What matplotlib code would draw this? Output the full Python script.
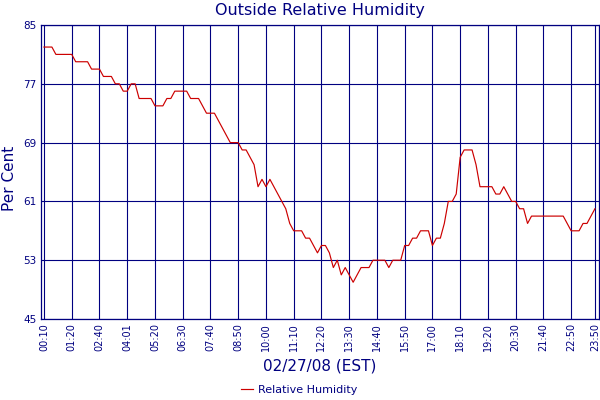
import numpy as np
import matplotlib
matplotlib.use("Agg")
import matplotlib.pyplot as plt

# relative humidity readings, one per sample
humidity = [82, 82, 82, 81, 81, 81, 81, 81, 80, 80,
            80, 80, 79, 79, 79, 78, 78, 78, 77, 77,
            76, 76, 77, 77, 75, 75, 75, 75, 74, 74,
            74, 75, 75, 76, 76, 76, 76, 75, 75, 75,
            74, 73, 73, 73, 72, 71, 70, 69, 69, 69,
            68, 68, 67, 66, 63, 64, 63, 64, 63, 62,
            61, 60, 58, 57, 57, 57, 56, 56, 55, 54,
            55, 55, 54, 52, 53, 51, 52, 51, 50, 51,
            52, 52, 52, 53, 53, 53, 53, 52, 53, 53,
            53, 55, 55, 56, 56, 57, 57, 57, 55, 56,
            56, 58, 61, 61, 62, 67, 68, 68, 68, 66,
            63, 63, 63, 63, 62, 62, 63, 62, 61, 61,
            60, 60, 58, 59, 59, 59, 59, 59, 59, 59,
            59, 59, 58, 57, 57, 57, 58, 58, 59, 60]

tick_pos = [0, 7, 14, 21, 28, 35, 42, 49, 56, 63, 70, 77, 84, 91, 98,
            105, 112, 119, 126, 133, 139]
tick_labels = ["00:10", "01:20", "02:40", "04:01", "05:20", "06:30", "07:40",
               "08:50", "10:00", "11:10", "12:20", "13:30", "14:40", "15:50",
               "17:00", "18:10", "19:20", "20:30", "21:40", "22:50", "23:50"]
y_ticks = [45, 53, 61, 69, 77, 85]

navy = "#000080"
red = "#cc0000"

fig = plt.figure(figsize=(6, 4), dpi=100)
ax = fig.add_axes([40.7 / 600, 1 - 319 / 400, (598.5 - 40.7) / 600, (319 - 25) / 400])

x = np.arange(len(humidity))
line, = ax.plot(x, humidity, color=red, lw=0.85, zorder=3)

ax.set_xlim(-0.83, 139.9)
ax.set_ylim(45, 85)
ax.set_xticks(tick_pos)
ax.set_xticklabels(tick_labels, rotation=90, fontsize=7, color=navy)
ax.set_yticks(y_ticks)
ax.set_yticklabels([str(v) for v in y_ticks], fontsize=7.5, color=navy)
ax.tick_params(length=0, pad=3)

ax.grid(True, color=navy, lw=0.8)
for s in ax.spines.values():
    s.set_color(navy)
    s.set_linewidth(0.9)

fig.text(319.6 / 600, 1 - 10 / 400, "Outside Relative Humidity", ha="center",
         va="center", fontsize=11.5, color=navy)
fig.text(10 / 600, 1 - 178 / 400, "Per Cent", rotation=90, ha="center",
         va="center", fontsize=11, color=navy)
fig.text(320 / 600, 1 - 366 / 400, "02/27/08 (EST)", ha="center",
         va="center", fontsize=11, color=navy)

fig.legend([line], ["Relative Humidity"], loc="center", bbox_to_anchor=(299 / 600, 1 - 390 / 400),
           frameon=False, fontsize=8, handlelength=1.1, handletextpad=0.4,
           labelcolor=navy)

fig.savefig("out.png", dpi=100)
